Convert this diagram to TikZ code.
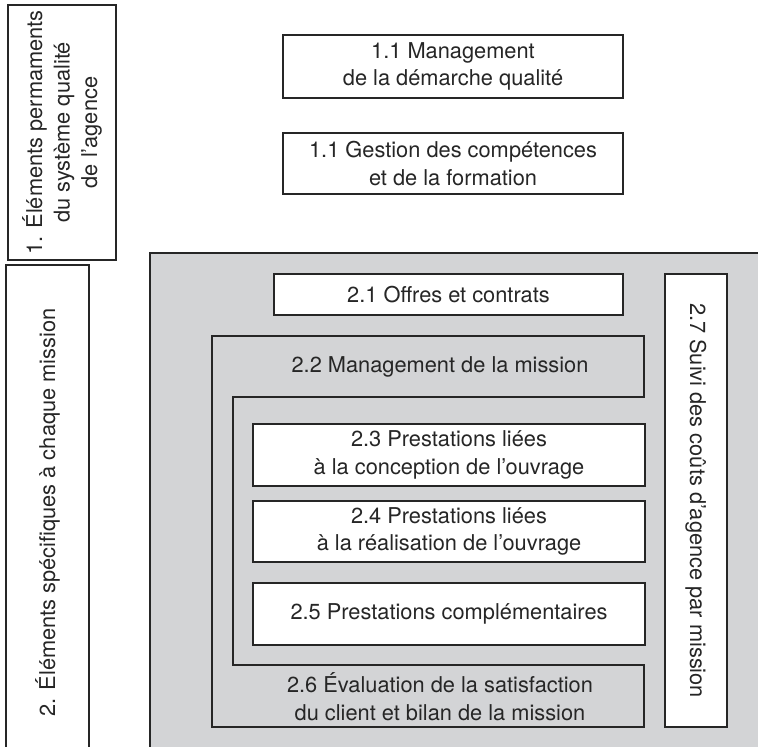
\documentclass[tikz,border=0pt]{standalone}
\usepackage{fontspec}
\setmainfont{TeX Gyre Heros}
\definecolor{panel}{RGB}{211,212,214}
\definecolor{ink}{RGB}{38,38,38}
\tikzset{
  txt/.style={font=\fontsize{21.8}{27.5}\selectfont, text=ink, align=center},
  box/.style={txt, draw=ink, line width=1.3pt, fill=white, inner sep=0pt, outer sep=0pt},
  lbl/.style={txt, inner sep=0pt, outer sep=0pt},
  frame/.style={draw=ink, line width=1.3pt, fill=panel},
}
\begin{document}
\begin{tikzpicture}[x=1pt, y=-1pt]
\useasboundingbox (0,0) rectangle (758,747);
% left column
\node[box, rotate=90, minimum width=255, minimum height=108] (b1) at (62,132.5)
  {1. Éléments permaments\\du système qualité\\de l'agence};
\node[box, rotate=90, minimum width=495, minimum height=83] (b2) at (47.5,512.5)
  {2. Éléments spécifiques à chaque mission};
% top boxes
\node[box, minimum width=340, minimum height=63] (m11) at (453,66.5)
  {1.1 Management\\de la démarche qualité};
\node[box, minimum width=340, minimum height=61] (g11) at (453,163.5)
  {1.1 Gestion des compétences\\et de la formation};
% big panel
\draw[frame] (150,253) rectangle (775,765);
\node[box, minimum width=349, minimum height=41] (c21) at (448.5,294.5)
  {2.1 Offres et contrats};
% mission frame (C shape)
\draw[frame] (212,336) -- (644,336) -- (644,397) -- (233,397) -- (233,665)
  -- (644,665) -- (644,727) -- (212,727) -- cycle;
\node[lbl] (t22) at (440,366.5) {2.2 Management de la mission};
\node[lbl] (t26) at (440,696.5) {2.6 Évaluation de la satisfaction\\du client et bilan de la mission};
\node[box, minimum width=392, minimum height=62] (c23) at (449,455)
  {2.3 Prestations liées\\à la conception de l’ouvrage};
\node[box, line width=2pt, minimum width=392, minimum height=61] (c24) at (449,531.5)
  {2.4 Prestations liées\\à la réalisation de l’ouvrage};
\node[box, minimum width=392, minimum height=62] (c25) at (449,614)
  {2.5 Prestations complémentaires};
\node[box, rotate=-90, minimum width=453, minimum height=62] (c27) at (696,500.5)
  {2.7 Suivi des coûts d’agence par mission};
\end{tikzpicture}
\end{document}
